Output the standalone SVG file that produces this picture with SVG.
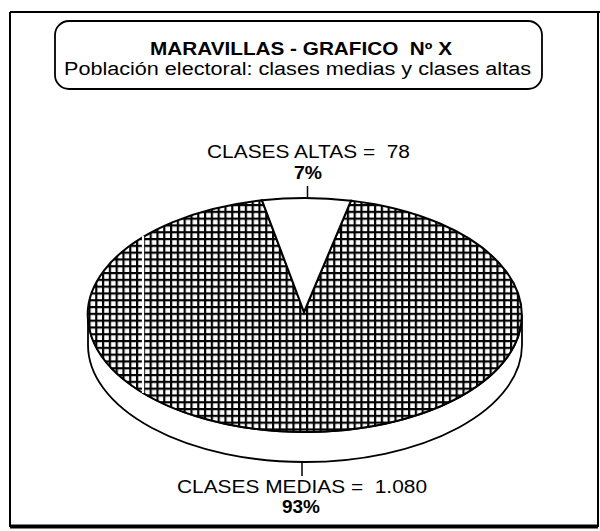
<svg xmlns="http://www.w3.org/2000/svg" width="600" height="531" viewBox="0 0 600 531">
<style>
text{font-family:"Liberation Sans",Arial,sans-serif;fill:#000;white-space:pre}
.lbl{font-size:18px}
.pct{font-size:18px;font-weight:bold}
.ln{stroke:#000;fill:none}
</style>
<defs>
<pattern id="grid" width="6.8" height="6.8" patternUnits="userSpaceOnUse">
<rect width="6.8" height="6.8" fill="#fff"/>
<path d="M0 1.1H6.8M1.1 0V6.8" stroke="#000" stroke-width="2.2"/>
</pattern>
</defs>
<rect width="600" height="531" fill="#fff"/>
<g id="frame">
<path class="ln" stroke-width="2" d="M10 12H600M10 12V527M598 12V527"/>
<path class="ln" stroke-width="4" d="M10 526.5H598"/>
</g>
<g id="title">
<rect x="55" y="21" width="487" height="68" rx="14" ry="14" fill="#fff" stroke="#000" stroke-width="1.8"/>
<text x="150" y="55" font-size="18" font-weight="bold" textLength="302" lengthAdjust="spacingAndGlyphs">MARAVILLAS - GRAFICO  Nº X</text>
<text x="64" y="75" font-size="18" textLength="467" lengthAdjust="spacingAndGlyphs">Población electoral: clases medias y clases altas</text>
</g>
<g id="pie">
<path d="M88 315V345A217 117 0 0 0 522 345V315A217 117 0 0 1 88 315Z" fill="#fff" stroke="#000" stroke-width="1.8"/>
<g id="clases-medias">
<path d="M304 312L262 200.3A217 117 0 1 0 351 200.7Z" fill="url(#grid)" stroke="#000" stroke-width="2"/>
<line x1="143" y1="236" x2="143" y2="393" stroke="#fff" stroke-width="2.2"/>
</g>
<g id="clases-altas">
<path d="M304 312L262 200.3A217 117 0 0 1 351 200.7Z" fill="#fff" stroke="#000" stroke-width="2"/>
</g>
</g>
<g id="connectors">
<line class="ln" x1="307.5" y1="186" x2="307.5" y2="199" stroke-width="1.5"/>
<line class="ln" x1="302" y1="462" x2="302" y2="476" stroke-width="1.5"/>
</g>
<g id="label-altas">
<text class="lbl" x="207" y="158" textLength="203" lengthAdjust="spacingAndGlyphs">CLASES ALTAS =  78</text>
<text class="pct" x="294" y="179" textLength="28" lengthAdjust="spacingAndGlyphs">7%</text>
</g>
<g id="label-medias">
<text class="lbl" x="177" y="493" textLength="250" lengthAdjust="spacingAndGlyphs">CLASES MEDIAS =  1.080</text>
<text class="pct" x="282" y="513" textLength="38" lengthAdjust="spacingAndGlyphs">93%</text>
</g>
</svg>
